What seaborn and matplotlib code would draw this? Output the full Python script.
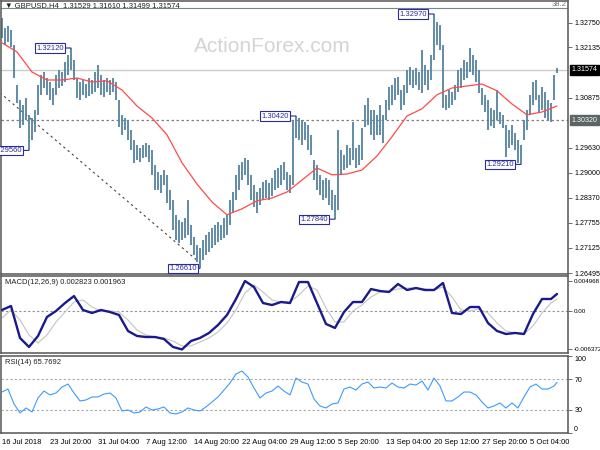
import numpy as np
import pandas as pd
import seaborn as sns
import matplotlib.pyplot as plt
import matplotlib.transforms as mtransforms

# ---- data (one point = 2 H4 bars) ----
bar_high = [
    1.3287, 1.3262, 1.3267, 1.3257, 1.3220, 1.3120, 1.3082, 1.3070, 1.3087, 1.3045,
    1.3037, 1.3057, 1.3120, 1.3145, 1.3152, 1.3137, 1.3127, 1.3112, 1.3145, 1.3157,
    1.3152, 1.3177, 1.3195, 1.3212, 1.3182, 1.3137, 1.3127, 1.3132, 1.3122, 1.3137,
    1.3132, 1.3152, 1.3170, 1.3145, 1.3132, 1.3137, 1.3132, 1.3137, 1.3127, 1.3082,
    1.3045, 1.3037, 1.3032, 1.3007, 1.2982, 1.2970, 1.2962, 1.2970, 1.2975, 1.2970,
    1.2957, 1.2920, 1.2902, 1.2895, 1.2907, 1.2895, 1.2857, 1.2832, 1.2795, 1.2782,
    1.2777, 1.2787, 1.2832, 1.2770, 1.2740, 1.2720, 1.2712, 1.2732, 1.2745, 1.2752,
    1.2762, 1.2770, 1.2777, 1.2770, 1.2787, 1.2795, 1.2832, 1.2852, 1.2895, 1.2920,
    1.2927, 1.2937, 1.2932, 1.2895, 1.2870, 1.2852, 1.2862, 1.2877, 1.2882, 1.2875,
    1.2887, 1.2907, 1.2912, 1.2920, 1.2927, 1.2902, 1.2895, 1.3030, 1.3042, 1.3037,
    1.3032, 1.3027, 1.3020, 1.2995, 1.2932, 1.2920, 1.2895, 1.2882, 1.2887, 1.2882,
    1.2857, 1.2845, 1.3007, 1.2957, 1.2945, 1.2970, 1.2962, 1.3027, 1.2962, 1.2970,
    1.3012, 1.3070, 1.3087, 1.3057, 1.3057, 1.3045, 1.3070, 1.3045, 1.3082, 1.3115,
    1.3120, 1.3137, 1.3140, 1.3107, 1.3120, 1.3157, 1.3165, 1.3157, 1.3162, 1.3152,
    1.3207, 1.3170, 1.3157, 1.3195, 1.3297, 1.3277, 1.3270, 1.3220, 1.3095, 1.3107,
    1.3102, 1.3120, 1.3157, 1.3162, 1.3182, 1.3177, 1.3212, 1.3195, 1.3182, 1.3157,
    1.3112, 1.3095, 1.3082, 1.3062, 1.3057, 1.3107, 1.3052, 1.3045, 1.3020, 1.3007,
    1.3020, 1.3000, 1.2982, 1.2970, 1.3032, 1.3057, 1.3095, 1.3127, 1.3132, 1.3095,
    1.3115, 1.3102, 1.3082, 1.3075, 1.3145, 1.3161,
]
bar_low = [
    1.3237, 1.3220, 1.3227, 1.3215, 1.3137, 1.3075, 1.3012, 1.3020, 1.3032, 1.2956,
    1.2982, 1.3002, 1.3045, 1.3095, 1.3112, 1.3095, 1.3082, 1.3070, 1.3095, 1.3112,
    1.3117, 1.3127, 1.3145, 1.3157, 1.3132, 1.3087, 1.3082, 1.3095, 1.3087, 1.3092,
    1.3097, 1.3102, 1.3112, 1.3095, 1.3090, 1.3102, 1.3095, 1.3102, 1.3082, 1.3015,
    1.2995, 1.3007, 1.2982, 1.2957, 1.2925, 1.2932, 1.2927, 1.2937, 1.2940, 1.2927,
    1.2895, 1.2857, 1.2857, 1.2850, 1.2870, 1.2825, 1.2807, 1.2757, 1.2732, 1.2725,
    1.2732, 1.2737, 1.2745, 1.2720, 1.2695, 1.2677, 1.2661, 1.2682, 1.2695, 1.2702,
    1.2712, 1.2720, 1.2727, 1.2732, 1.2737, 1.2745, 1.2770, 1.2802, 1.2832, 1.2857,
    1.2882, 1.2895, 1.2870, 1.2832, 1.2815, 1.2800, 1.2820, 1.2832, 1.2837, 1.2832,
    1.2842, 1.2857, 1.2862, 1.2870, 1.2882, 1.2857, 1.2850, 1.2870, 1.2987, 1.2982,
    1.2970, 1.2982, 1.2957, 1.2945, 1.2882, 1.2857, 1.2845, 1.2832, 1.2837, 1.2820,
    1.2807, 1.2784, 1.2807, 1.2895, 1.2907, 1.2912, 1.2920, 1.2932, 1.2912, 1.2920,
    1.2932, 1.3015, 1.3020, 1.2995, 1.2982, 1.2995, 1.2995, 1.2975, 1.3032, 1.3057,
    1.3070, 1.3082, 1.3095, 1.3057, 1.3070, 1.3100, 1.3120, 1.3112, 1.3120, 1.3107,
    1.3100, 1.3120, 1.3107, 1.3132, 1.3182, 1.3220, 1.3207, 1.3062, 1.3057, 1.3062,
    1.3070, 1.3082, 1.3102, 1.3112, 1.3132, 1.3137, 1.3152, 1.3145, 1.3127, 1.3100,
    1.3070, 1.3052, 1.3007, 1.3017, 1.3012, 1.3032, 1.3022, 1.3012, 1.2940, 1.2962,
    1.2970, 1.2957, 1.2925, 1.2921, 1.2982, 1.3007, 1.3045, 1.3070, 1.3082, 1.3050,
    1.3057, 1.3037, 1.3032, 1.3027, 1.3082, 1.3150,
]

ma_idx = list(range(0, 186, 5))
ma_vals = [
    1.3225, 1.3202, 1.3152, 1.3132, 1.3132, 1.3137, 1.3127, 1.3130, 1.3107, 1.3067,
    1.3037, 1.2995, 1.2925, 1.2872, 1.2827, 1.2795, 1.2810, 1.2830, 1.2837, 1.2852,
    1.2882, 1.2912, 1.2895, 1.2897, 1.2907, 1.2942, 1.2990, 1.3042, 1.3060, 1.3095,
    1.3112, 1.3117, 1.3122, 1.3105, 1.3072, 1.3045, 1.3052, 1.3067,
]

macd_idx = list(range(0, 186, 3)) + [185]
macd_vals = [
    0.00017, 0.00083, -0.00447, -0.00596, -0.00414, -0.00099, 0.0, 0.00132, 0.00248, 0.00017,
    -0.00033, 0.00017, -0.00017, -0.00066, -0.00331, -0.00414, -0.00431, -0.00431, -0.00464, -0.00596,
    -0.00637, -0.00497, -0.00447, -0.00364, -0.00232, -0.00066, 0.00199, 0.00497, 0.00397, 0.00132,
    0.00099, 0.00149, 0.00132, 0.00480, 0.00480, 0.00132, -0.00215, -0.00281, -0.00017, 0.00149,
    0.00149, 0.00364, 0.00331, 0.00315, 0.00447, 0.00348, 0.00381, 0.00348, 0.00348, 0.00464,
    -0.00033, -0.00050, 0.00066, 0.00066, -0.00199, -0.00331, -0.00381, -0.00364, -0.00381, -0.00050,
    0.00199, 0.00199, 0.002823,
]
signal_vals = [
    -0.00116, 0.00017, -0.00149, -0.00397, -0.00530, -0.00397, -0.00182, -0.00017, 0.00149, 0.00182,
    0.00066, 0.0, 0.0, -0.00017, -0.00149, -0.00315, -0.00397, -0.00431, -0.00447, -0.00497,
    -0.00580, -0.00580, -0.00513, -0.00447, -0.00348, -0.00199, 0.00017, 0.00298, 0.00431, 0.00315,
    0.00182, 0.00149, 0.00149, 0.00265, 0.00414, 0.00348, 0.00050, -0.00182, -0.00182, 0.0,
    0.00099, 0.00232, 0.00315, 0.00331, 0.00364, 0.00381, 0.00381, 0.00364, 0.00348, 0.00397,
    0.00232, 0.00017, 0.0, 0.00033, -0.00033, -0.00199, -0.00331, -0.00364, -0.00381, -0.00248,
    -0.00033, 0.00132, 0.001963,
]

rsi_idx = list(range(0, 185, 2)) + [185]
rsi_vals = [
    53.2, 57.1, 37.7, 26.0, 32.5, 27.3, 45.5, 54.5, 49.4, 51.9,
    59.7, 63.6, 51.9, 41.6, 42.9, 46.8, 46.8, 50.6, 51.9, 45.5,
    28.6, 29.9, 26.0, 27.3, 33.8, 29.9, 31.2, 33.8, 26.0, 24.7,
    27.3, 32.5, 29.9, 28.6, 33.8, 40.3, 46.8, 55.8, 64.9, 76.6,
    80.5, 72.7, 58.4, 45.5, 51.9, 54.5, 61.0, 54.5, 49.4, 71.4,
    66.2, 63.6, 44.2, 35.1, 32.5, 37.7, 39.0, 57.1, 59.7, 55.8,
    63.6, 66.2, 58.4, 59.7, 58.4, 64.9, 59.7, 58.4, 63.6, 62.3,
    67.5, 55.8, 71.4, 61.0, 41.6, 41.6, 46.8, 53.2, 53.2, 49.4,
    40.3, 32.5, 35.1, 39.0, 32.5, 39.0, 32.5, 46.8, 59.7, 63.6,
    57.1, 57.1, 61.0, 65.77,
]

# swing high / low labels
swing_idx = [9, 23, 66, 98, 111, 144, 173]
swing_price = [1.29560, 1.32120, 1.26610, 1.30420, 1.27840, 1.32970, 1.29210]

trend_idx = [-0.67, 66]
trend_price = [1.3100, 1.2675]

support_level = 1.30320
last_price = 1.31574
fib_level = 1.3312

price_ticks = [1.32750, 1.32135, 1.30875, 1.29630, 1.29000,
               1.28370, 1.27755, 1.27125, 1.26495]
time_idx = list(range(0, 186, 16))
time_labels = ["16 Jul 2018", "23 Jul 20:00", "31 Jul 04:00", "7 Aug 12:00",
               "14 Aug 20:00", "22 Aug 04:00", "29 Aug 12:00", "5 Sep 20:00",
               "13 Sep 04:00", "20 Sep 12:00", "27 Sep 20:00", "5 Oct 04:00"]

# ---- style ----
sns.set_theme(style="white")
plt.rcParams['font.family'] = ['Liberation Sans', 'DejaVu Sans']

W, H = 600, 450
fig = plt.figure(figsize=(6, 4.5), dpi=100)


def rect(x0, y0, x1, y1):
    return [x0 / W, 1 - y1 / H, (x1 - x0) / W, (y1 - y0) / H]


ax_p = fig.add_axes(rect(1, 1, 568, 274))
ax_m = fig.add_axes(rect(1, 276, 568, 353))
ax_r = fig.add_axes(rect(1, 356, 568, 433))

navy = '#2b2b9c'
fs = 5.5
fs_y = 5.1

for ax in (ax_p, ax_m, ax_r):
    ax.set_xlim(-0.33, 188.67)
    ax.set_facecolor('white')
    for s in ax.spines.values():
        s.set_color('#555555')
        s.set_linewidth(1.1)
    ax.yaxis.tick_right()
    ax.tick_params(axis='y', direction='out', length=3, width=0.6, labelsize=fs_y,
                   pad=1.5, colors='#555555', labelcolor='black')
    ax.set_xlabel('')
    ax.set_ylabel('')

# ---- price panel ----
ax_p.text(272 / W, 1 - 46 / H, 'ActionForex.com', transform=fig.transFigure,
          fontsize=15, color='#d4d4d4', ha='center', va='center', zorder=0.5)

ax_p.axhline(fib_level, color='#6f8b8b', lw=0.8, zorder=1)
ax_p.axhline(last_price, color='#cccccc', lw=1.0, zorder=1)
ax_p.axhline(support_level, color='#808080', lw=0.9, ls=(0, (2, 2)), zorder=1)
ax_p.plot(trend_idx, trend_price, color='#404040', lw=0.8, ls=(0, (2, 3)), zorder=1)

ax_p.vlines(np.arange(len(bar_high)), bar_low, bar_high, color='#55849f', lw=1.3, zorder=2)
sns.lineplot(x=ma_idx, y=ma_vals, ax=ax_p, color='#ff4a4a', lw=0.9, zorder=3)

ax_p.set_ylim(1.2647, 1.33295)
ax_p.set_yticks(price_ticks)
ax_p.set_yticklabels([f"{v:.5f}" for v in price_ticks])
ax_p.set_xticks([])

for i, pr in zip(swing_idx, swing_price):
    gap = -3 if i == 66 else -7
    ax_p.annotate(f"{pr:.5f}", xy=(i, pr), xytext=(gap, 0), textcoords='offset pixels',
                  ha='right', va='center', fontsize=fs, color=navy, zorder=6,
                  bbox=dict(boxstyle='square,pad=0.15', fc='white', ec=navy, lw=0.8),
                  arrowprops=dict(arrowstyle='-', color=navy, lw=0.8,
                                  shrinkA=0, shrinkB=0))

btr = mtransforms.blended_transform_factory(ax_p.transAxes, ax_p.transData)
ax_p.text(1.006, last_price, '1.31574', transform=btr, ha='left', va='center',
          fontsize=fs_y, color='white', zorder=10, clip_on=False,
          bbox=dict(boxstyle='square,pad=0.25', fc='black', ec='black'))
ax_p.text(1.006, support_level, '1.30320', transform=btr, ha='left', va='center',
          fontsize=fs_y, color='white', zorder=10, clip_on=False,
          bbox=dict(boxstyle='square,pad=0.25', fc='#5c6464', ec='#5c6464'))
ax_p.text(0.997, 1.3322, '38.2', transform=btr, ha='right', va='center',
          fontsize=fs, color='#707070', zorder=10)

fig.text(5 / W, 1 - 6 / H, '\u25bc GBPUSD,H4  1.31529 1.31610 1.31499 1.31574',
         fontsize=fs, color='#202020', va='center', ha='left')

# ---- MACD panel ----
ax_m.axhline(0, color='#909090', lw=0.8, ls=(0, (2, 2)), zorder=1)
sns.lineplot(x=macd_idx, y=signal_vals, ax=ax_m, color='#c4c4c4', lw=0.8, zorder=2)
sns.lineplot(x=macd_idx, y=macd_vals, ax=ax_m, color='#1a1a8c', lw=1.7, zorder=3)
ax_m.set_ylim(-0.00696, 0.0058)
ax_m.set_yticks([0.004968, 0.0, -0.006372])
ax_m.set_yticklabels(['0.004968', '0.00', '-0.006372'])
ax_m.tick_params(axis='y', labelsize=4.5, pad=1)
ax_m.set_xticks([])
fig.text(5 / W, 1 - 283 / H, 'MACD(12,26,9) 0.002823 0.001963', fontsize=fs,
         color='#202020', va='center', ha='left')

# ---- RSI panel ----
ax_r.axhline(70, color='#a8a8a8', lw=0.8, ls=(0, (2, 2)), zorder=1)
ax_r.axhline(30, color='#a8a8a8', lw=0.8, ls=(0, (2, 2)), zorder=1)
sns.lineplot(x=rsi_idx, y=rsi_vals, ax=ax_r, color='#3d9bff', lw=0.8, zorder=3)
ax_r.set_ylim(0, 100)
ax_r.set_yticks([100, 70, 30, 0])
ax_r.set_yticklabels(['100', '70', '30', '0'])
labs = ax_r.get_yticklabels()
labs[0].set_va('top')
labs[3].set_va('bottom')
ax_r.set_xticks(time_idx)
ax_r.set_xticklabels(time_labels)
ax_r.tick_params(axis='x', direction='out', length=3, width=0.6, labelsize=fs,
                 pad=1.5, colors='#555555', labelcolor='black')
for lbl in ax_r.get_xticklabels():
    lbl.set_ha('left')
fig.text(5 / W, 1 - 363 / H, 'RSI(14) 65.7692', fontsize=fs, color='#202020',
         va='center', ha='left')

fig.savefig('out.png', dpi=100, facecolor='white')
